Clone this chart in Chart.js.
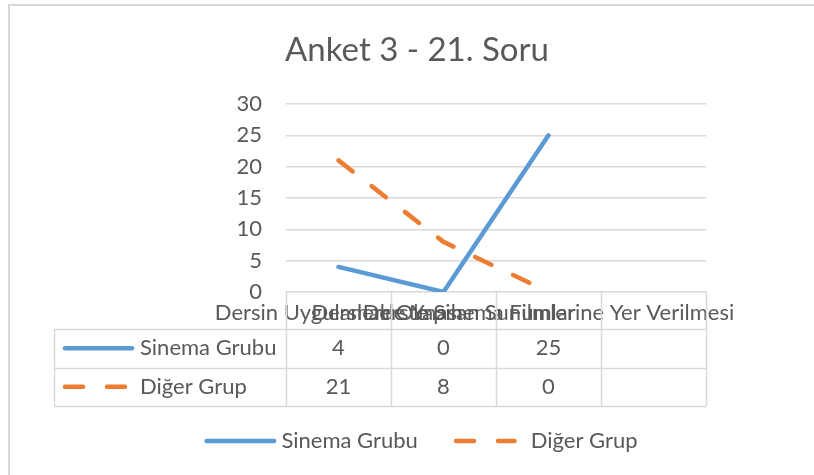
<!DOCTYPE html>
<html>
<head>
<meta charset="utf-8">
<script src="https://cdn.jsdelivr.net/npm/chart.js@4"></script>
<style>
  html, body { margin: 0; padding: 0; background: #fff; overflow: hidden; }
  #wrap { width: 814px; height: 475px; position: relative; }
</style>
</head>
<body>
<div id="wrap"><canvas id="chart" width="814" height="475"></canvas></div>
<script>
// ── Data ──
const title      = 'Anket 3 - 21. Soru';
const categories = [
  'Dersin Uygulamalı Olması',
  'Derslerde Yapılan Sunumlar',
  'Derste Sinema Filmlerine Yer Verilmesi',
  ''
];
const sinemaGrubu = [4, 0, 25, null];
const digerGrup   = [21, 8, 0, null];
const yTicks      = [0, 5, 10, 15, 20, 25, 30];

const FONT   = 'Lato';
const TEXT   = '#595959';
const GRID   = '#d9d9d9';
const BLUE   = '#5b9bd5';
const ORANGE = '#ed7d31';

// Excel chart frame runs past the right edge of the screenshot
const frame = { left: 9, top: 5, right: 825, bottom: 490 };
const table = { left: 54, top: 329, rowH: 38.5 };

function drawSample(ctx, ds, x0, x1, y) {
  ctx.save();
  ctx.strokeStyle = ds.borderColor;
  ctx.lineWidth   = ds.borderWidth;
  ctx.lineCap     = 'round';
  ctx.setLineDash(ds.borderDash || []);
  ctx.beginPath();
  ctx.moveTo(x0, y);
  ctx.lineTo(x1, y);
  ctx.stroke();
  ctx.restore();
}

// ── Title, frame, data table and legend ──
const excelExtras = {
  id: 'excelExtras',
  beforeDraw(chart) {
    const { ctx } = chart;
    ctx.save();
    ctx.strokeStyle = GRID;
    ctx.lineWidth = 2;
    ctx.strokeRect(frame.left, frame.top, frame.right - frame.left, frame.bottom - frame.top);
    ctx.fillStyle = TEXT;
    ctx.font = `33px ${FONT}`;
    ctx.textAlign = 'center';
    ctx.textBaseline = 'middle';
    ctx.fillText(title, (frame.left + frame.right) / 2, 50);
    ctx.restore();
  },
  afterDraw(chart) {
    const { ctx, chartArea } = chart;
    const x = chart.scales.x;
    const n = categories.length;
    const colW = x.width / n;
    const rows = chart.data.datasets.length;
    const bottom = table.top + rows * table.rowH;

    ctx.save();
    ctx.strokeStyle = GRID;
    ctx.lineWidth = 1.5;
    ctx.beginPath();
    // column lines from the axis down through the rows
    for (let i = 0; i <= n; i++) {
      const cx = Math.round(x.left + i * colW) + 0.5;
      ctx.moveTo(cx, chartArea.bottom);
      ctx.lineTo(cx, bottom);
    }
    // row lines
    for (let r = 0; r <= rows; r++) {
      const ry = Math.round(table.top + r * table.rowH) + 0.5;
      ctx.moveTo(table.left, ry);
      ctx.lineTo(x.right, ry);
    }
    ctx.moveTo(table.left + 0.5, table.top);
    ctx.lineTo(table.left + 0.5, bottom);
    ctx.stroke();

    ctx.font = `22px ${FONT}`;
    ctx.fillStyle = TEXT;
    ctx.textBaseline = 'middle';
    chart.data.datasets.forEach((ds, r) => {
      const cy = table.top + r * table.rowH + table.rowH / 2;
      drawSample(ctx, ds, table.left + 11, table.left + 78, cy);
      ctx.textAlign = 'left';
      ctx.fillText(ds.label, table.left + 86, cy);
      ctx.textAlign = 'center';
      ds.data.forEach((v, i) => {
        if (v === null) return;
        ctx.fillText(String(v), x.getPixelForValue(i), cy);
      });
    });

    // bottom legend
    const sampleW = 72, gapTxt = 5, gapItem = 36;
    const items = chart.data.datasets.map(ds => ({ ds, w: sampleW + gapTxt + ctx.measureText(ds.label).width }));
    const total = items.reduce((s, it) => s + it.w, 0) + gapItem * (items.length - 1);
    let lx = (frame.left + frame.right) / 2 - total / 2 + 4;
    const ly = 441;
    items.forEach(({ ds, w }) => {
      drawSample(ctx, ds, lx + 2.25, lx + sampleW - 2.25 - (ds.borderDash ? 9 : 0), ly);
      ctx.textAlign = 'left';
      ctx.fillText(ds.label, lx + sampleW + gapTxt, ly);
      lx += w + gapItem;
    });
    ctx.restore();
  }
};

new Chart(document.getElementById('chart'), {
  type: 'line',
  data: {
    labels: categories,
    datasets: [
      {
        label: 'Sinema Grubu',
        data: sinemaGrubu,
        borderColor: BLUE,
        backgroundColor: BLUE,
        borderWidth: 4.5,
        borderCapStyle: 'round',
        borderJoinStyle: 'round',
        pointRadius: 0,
        tension: 0,
      },
      {
        label: 'Diğer Grup',
        data: digerGrup,
        borderColor: ORANGE,
        backgroundColor: ORANGE,
        borderWidth: 4.5,
        borderDash: [18, 24],
        borderCapStyle: 'round',
        borderJoinStyle: 'round',
        pointRadius: 0,
        tension: 0,
      },
    ],
  },
  options: {
    responsive: false,
    animation: false,
    layout: { padding: { left: 226, right: 108, top: 104, bottom: 143 } },
    plugins: {
      legend: { display: false },
      title: { display: false },
      tooltip: { enabled: false },
    },
    scales: {
      x: {
        offset: true,
        grid: { display: false },
        border: { display: false },
        afterFit: s => { s.height = 40; },
        ticks: {
          autoSkip: false,
          maxRotation: 0,
          minRotation: 0,
          padding: 0,
          color: TEXT,
          font: { family: FONT, size: 22 },
        },
      },
      y: {
        min: 0,
        max: 30,
        afterFit: s => { s.width = 60; },
        afterBuildTicks: s => { s.ticks = yTicks.map(v => ({ value: v })); },
        grid: { color: GRID, lineWidth: 1.5, drawTicks: false },
        border: { display: false },
        ticks: {
          padding: 24,
          color: TEXT,
          font: { family: FONT, size: 22 },
        },
      },
    },
  },
  plugins: [excelExtras],
});
</script>
</body>
</html>
